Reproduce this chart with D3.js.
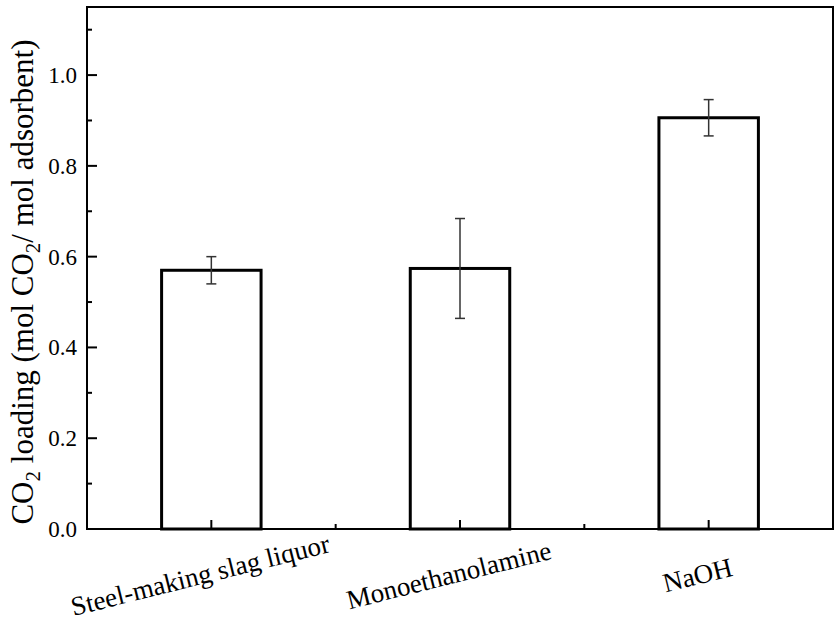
<!DOCTYPE html>
<html>
<head>
<meta charset="utf-8">
<script src="https://cdn.jsdelivr.net/npm/d3@7"></script>
<style>
  body { margin: 0; background: #fff; }
  text { font-family: "Liberation Serif", "Times New Roman", serif; fill: #000; }
</style>
</head>
<body>
<script>
var categories = ["Steel-making slag liquor", "Monoethanolamine", "NaOH"];
var loading = [0.570, 0.574, 0.906];
var loadingErr = [0.030, 0.110, 0.040];
var yMajorTicks = [0.0, 0.2, 0.4, 0.6, 0.8, 1.0];
var yMinorTicks = [0.1, 0.3, 0.5, 0.7, 0.9, 1.1];

var WIDTH = 835, HEIGHT = 624;
var LEFT = 87, RIGHT = 833, TOP = 7, BOTTOM = 529;

var _svg = d3.select('body').append('svg')
    .attr('width', WIDTH)
    .attr('height', HEIGHT);

var _xScale = d3.scaleLinear()
    .domain([0.5, categories.length + 0.5])
    .range([LEFT, RIGHT]);

var _yScale = d3.scaleLinear()
    .domain([0, 1.15])
    .range([BOTTOM, TOP]);

var data = categories.map(function(c, i){
    return {name: c, pos: i + 1, value: loading[i], err: loadingErr[i]};
});

// bars
var barW = _xScale(1.4) - _xScale(1);
_svg.selectAll('rect.bar').data(data)
    .enter().append('rect')
    .attr('class', 'bar')
    .attr('x', function(d){ return _xScale(d.pos) - barW / 2; })
    .attr('y', function(d){ return _yScale(d.value); })
    .attr('width', barW)
    .attr('height', function(d){ return _yScale(0) - _yScale(d.value); })
    .attr('fill', '#fff')
    .attr('stroke', '#000')
    .attr('stroke-width', 3);

// error bars
var eb = _svg.selectAll('g.err').data(data).enter().append('g')
    .attr('stroke', '#333').attr('stroke-width', 1.5);
eb.append('line')
    .attr('x1', function(d){ return _xScale(d.pos); })
    .attr('x2', function(d){ return _xScale(d.pos); })
    .attr('y1', function(d){ return _yScale(d.value + d.err); })
    .attr('y2', function(d){ return _yScale(d.value - d.err); });
[1, -1].forEach(function(s){
    eb.append('line')
        .attr('x1', function(d){ return _xScale(d.pos) - 5; })
        .attr('x2', function(d){ return _xScale(d.pos) + 5; })
        .attr('y1', function(d){ return _yScale(d.value + s * d.err); })
        .attr('y2', function(d){ return _yScale(d.value + s * d.err); });
});

// frame
_svg.append('rect')
    .attr('x', LEFT).attr('y', TOP)
    .attr('width', RIGHT - LEFT).attr('height', BOTTOM - TOP)
    .attr('fill', 'none').attr('stroke', '#000').attr('stroke-width', 2);

// y axis ticks (inward)
var yAxis = _svg.append('g').attr('stroke', '#000').attr('stroke-width', 2);
yAxis.selectAll('line.maj').data(yMajorTicks).enter().append('line')
    .attr('x1', LEFT).attr('x2', LEFT + 10)
    .attr('y1', function(d){ return _yScale(d); })
    .attr('y2', function(d){ return _yScale(d); });
yAxis.selectAll('line.min').data(yMinorTicks).enter().append('line')
    .attr('x1', LEFT).attr('x2', LEFT + 5)
    .attr('y1', function(d){ return _yScale(d); })
    .attr('y2', function(d){ return _yScale(d); });

_svg.selectAll('text.ytick').data(yMajorTicks).enter().append('text')
    .attr('class', 'ytick')
    .attr('x', LEFT - 10)
    .attr('y', function(d){ return _yScale(d); })
    .attr('dy', '0.35em')
    .attr('text-anchor', 'end')
    .attr('font-size', 23)
    .text(function(d){ return d3.format('.1f')(d); });

// x axis ticks (inward)
var xAxis = _svg.append('g').attr('stroke', '#000').attr('stroke-width', 2);
xAxis.selectAll('line.maj').data(data).enter().append('line')
    .attr('x1', function(d){ return _xScale(d.pos); })
    .attr('x2', function(d){ return _xScale(d.pos); })
    .attr('y1', BOTTOM).attr('y2', BOTTOM - 9);
xAxis.selectAll('line.min').data(d3.range(1.5, categories.length, 1)).enter().append('line')
    .attr('x1', function(d){ return _xScale(d); })
    .attr('x2', function(d){ return _xScale(d); })
    .attr('y1', BOTTOM).attr('y2', BOTTOM - 5);

// rotated category labels
_svg.selectAll('text.xlab').data(data).enter().append('text')
    .attr('class', 'xlab')
    .attr('font-size', 27)
    .attr('text-anchor', 'middle')
    .attr('transform', function(d){
        return 'translate(' + (_xScale(d.pos) - 9) + ',584) rotate(-14)';
    })
    .text(function(d){ return d.name; });

// y axis title
var yt = _svg.append('text')
    .attr('transform', 'translate(33,' + ((TOP + BOTTOM) / 2 + 14) + ') rotate(-90)')
    .attr('text-anchor', 'middle')
    .attr('font-size', 31);
yt.append('tspan').text('CO');
yt.append('tspan').attr('font-size', 21).attr('dy', 7).text('2');
yt.append('tspan').attr('dy', -7).text(' loading (mol CO');
yt.append('tspan').attr('font-size', 21).attr('dy', 7).text('2');
yt.append('tspan').attr('dy', -7).text('/ mol adsorbent)');
</script>
</body>
</html>
